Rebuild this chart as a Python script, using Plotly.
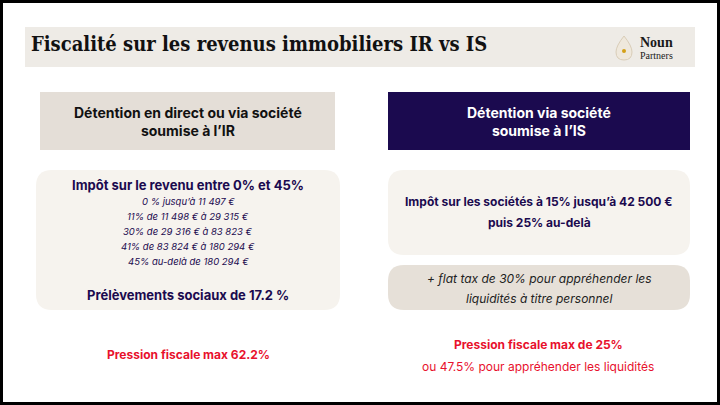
import plotly.graph_objects as go

W, H = 720, 405

title = "Fiscalité sur les revenus immobiliers IR vs IS"
header_left = "Détention en direct ou via société<br>soumise à l’IR"
header_right = "Détention via société<br>soumise à l’IS"
ir_title = "Impôt sur le revenu entre 0% et 45%"
ir_brackets = [
    "0 % jusqu’à 11 497 €",
    "11% de 11 498 € à 29 315 €",
    "30% de 29 316 € à 83 823 €",
    "41% de 83 824 € à 180 294 €",
    "45% au-delà de 180 294 €",
]
ir_social = "Prélèvements sociaux de 17.2 %"
is_lines = ["Impôt sur les sociétés à 15% jusqu’à 42 500 €", "puis 25% au-delà"]
flat_lines = ["+ flat tax de 30% pour appréhender les", "liquidités à titre personnel"]
left_result = "Pression fiscale max 62.2%"
right_result = ["Pression fiscale max de 25%", "ou 47.5% pour appréhender les liquidités"]

NAVY = "#1b0a4f"
RED = "#e8112d"
FONT = "Inter"


def rounded(x0, y0, x1, y1, r, color):
    path = (f"M{x0+r},{y0} L{x1-r},{y0} Q{x1},{y0} {x1},{y0+r} "
            f"L{x1},{y1-r} Q{x1},{y1} {x1-r},{y1} L{x0+r},{y1} "
            f"Q{x0},{y1} {x0},{y1-r} L{x0},{y0+r} Q{x0},{y0} {x0+r},{y0} Z")
    return dict(type="path", path=path, fillcolor=color, line_width=0, layer="below")


def rect(x0, y0, x1, y1, color, line=None):
    return dict(type="rect", x0=x0, y0=y0, x1=x1, y1=y1, fillcolor=color,
                line=dict(width=0) if line is None else line, layer="below")


def text(x, y, s, size, color=NAVY, bold=False, italic=False, family=FONT, anchor="center"):
    if bold:
        s = f"<b>{s}</b>"
    if italic:
        s = f"<i>{s}</i>"
    return dict(x=x, y=y, text=s, showarrow=False, xanchor=anchor, yanchor="middle",
                font=dict(size=size, color=color, family=family))


shapes = [
    rect(1.5, 1.5, W - 1.5, H - 1.5, "white", line=dict(color="black", width=3)),
    rect(25, 27, 695, 67, "#eeebe6"),
    rect(40, 92, 335, 150, "#e4ded7"),
    rect(388, 92, 690, 150, NAVY),
    rounded(36, 170, 340, 310, 16, "#f6f3ee"),
    rounded(388, 170, 690, 255, 16, "#f6f3ee"),
    rounded(388, 265, 690, 310, 16, "#e6e0d8"),
    dict(type="path", path="M624,36 Q632,46 632,52 Q632,60 624,60 Q616,60 616,52 Q616,46 624,36 Z",
         fillcolor="#efe8dc", line=dict(color="#d9cdb8", width=1), layer="below"),
    dict(type="circle", x0=622, y0=49, x1=626, y1=53, fillcolor="#d4a017", line_width=0),
]

annotations = [
    text(29, 44, title, 20, color="#111111", bold=True, family="DejaVu Serif Condensed", anchor="left"),
    text(638, 42, "<b>Noun</b>", 14, color="#1a1a1a", family="Liberation Serif", anchor="left"),
    text(638, 55, "Partners", 10, color="#1a1a1a", family="Liberation Serif", anchor="left"),
    text(188, 121, header_left, 14, color="#111111", bold=True),
    text(539, 121, header_right, 14, color="white", bold=True),
    text(188, 185, ir_title, 13, bold=True),
    text(188, 295, ir_social, 13, bold=True),
    text(188, 354, left_result, 12, color=RED, bold=True),
    text(538, 344, right_result[0], 12, color=RED, bold=True),
    text(538, 366, right_result[1], 12, color=RED),
]
for i, line in enumerate(ir_brackets):
    annotations.append(text(188, 201 + i * 15, line, 9.5, italic=True))
for i, line in enumerate(is_lines):
    annotations.append(text(539, 201 + i * 21, line, 12, bold=True))
for i, line in enumerate(flat_lines):
    annotations.append(text(539, 278 + i * 20, line, 12, color="#222222", italic=True))

fig = go.Figure()
fig.update_layout(
    width=W, height=H, margin=dict(l=0, r=0, t=0, b=0),
    paper_bgcolor="white", plot_bgcolor="white",
    xaxis=dict(range=[0, W], visible=False, fixedrange=True),
    yaxis=dict(range=[H, 0], visible=False, fixedrange=True),
    shapes=shapes, annotations=annotations, showlegend=False,
)
fig.write_html("out.html", config={"displayModeBar": False},
               post_script="document.body.style.margin='0';document.body.style.overflow='hidden';")
